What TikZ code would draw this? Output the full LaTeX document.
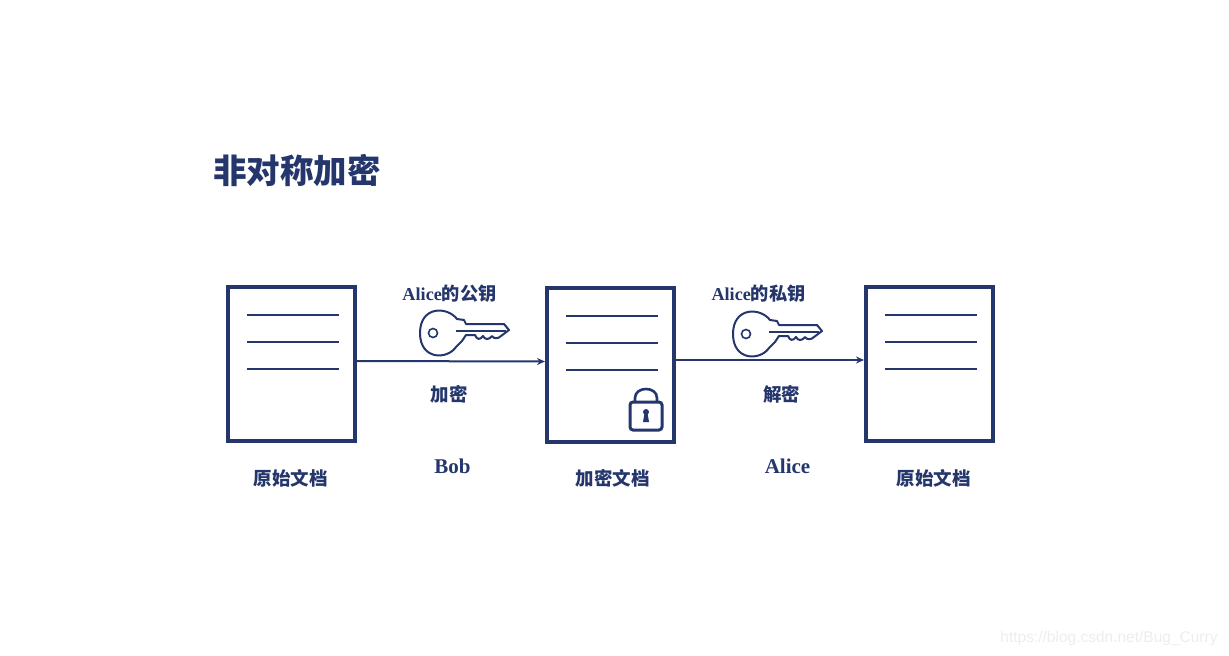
\documentclass[tikz,border=0pt]{standalone}
\usepackage{fontspec}
\setmainfont{Liberation Serif}
\setsansfont{Liberation Sans}
\newfontfamily\cjk{Noto Sans CJK SC}
\usetikzlibrary{arrows.meta}
\definecolor{navy}{HTML}{24366C}
\tikzset{
  keyicon/.pic={
    \draw[navy, line width=2pt, line join=round, fill=white]
      (18,-14) .. controls (8,-27) and (-19,-27) .. (-19,0)
      .. controls (-19,27) and (8,27) .. (17,14)
      -- (23,8) -- (27,2) -- (36,2) .. controls (38,7) and (41,7) .. (44,3)
      .. controls (46,7) and (50,7) .. (53,3) .. controls (55,6) and (59,6) .. (62,3)
      -- (70,-3) -- (65,-9) -- (27,-9) -- (25,-13) -- cycle;
    \draw[navy, line width=1.8pt] (17,-2) -- (67,-2);
    \draw[navy, line width=1.6pt] (-6,0) circle (4.5);
  },
  lockicon/.pic={
    \draw[navy, line width=2.6pt] (-11,0) -- (-11,-4) .. controls (-11,-16) and (11,-16) .. (11,-4) -- (11,0);
    \draw[navy, line width=3pt, rounded corners=3pt] (-16,0) rectangle (16,28);
    \fill[navy] (0,10) circle (3);
    \fill[navy] (-1.5,11) -- (1.5,11) -- (3,20) -- (-3,20) -- cycle;
  }
}
\begin{document}
\begin{tikzpicture}[x=1pt, y=-1pt]
  % styles
  \tikzstyle{docbox}=[draw=navy, line width=4pt, minimum width=127pt, minimum height=154pt, inner sep=0pt]
  \tikzstyle{docrule}=[navy, line width=2pt]
  \tikzstyle{flow}=[navy, line width=2pt, -{Stealth[length=8pt, width=7pt]}]
  \tikzstyle{caption}=[navy, inner sep=0pt, font=\cjk\bfseries\fontsize{18.5}{20}\selectfont]
  \tikzstyle{keylabel}=[navy, inner sep=0pt, font=\bfseries\fontsize{18.2}{20}\selectfont]
  \tikzstyle{person}=[navy, inner sep=0pt, font=\bfseries\fontsize{21}{23}\selectfont]

  \useasboundingbox (0,0) rectangle (1229,656);

  % title
  \node[navy, inner sep=0pt, font=\cjk\bfseries\fontsize{33.5}{36}\selectfont] (title) at (297,170) {非对称加密};

  % documents
  \node[docbox] (source) at (291.5,364) {};
  \node[docbox] (cipher) at (610.5,364.5) {};
  \node[docbox] (plain) at (929.5,364) {};
  \foreach \doc in {source,cipher,plain}
    \foreach \dy in {49,22,-5}
      \draw[docrule] ([xshift=-44.5pt, yshift=\dy pt]\doc.center) -- ([xshift=47.5pt, yshift=\dy pt]\doc.center);

  % captions
  \node[caption] (sourcename) at (290.5,478) {原始文档};
  \node[caption] (ciphername) at (612.5,478) {加密文档};
  \node[caption] (plainname) at (933.5,478) {原始文档};

  % arrows
  \draw[flow] ([yshift=3pt]source.east) -- ([yshift=3pt]cipher.west);
  \draw[flow] ([yshift=4.5pt]cipher.east) -- ([yshift=4pt]plain.west);

  % keys
  \pic at (439,333) {keyicon};
  \pic at (752,334) {keyicon};
  \node[keylabel] (pubkey) at (449.5,294) {Alice{\cjk 的公钥}};
  \node[keylabel] (privkey) at (758.5,294) {Alice{\cjk 的私钥}};
  \node[caption] (encrypt) at (449,394) {加密};
  \node[caption] (decrypt) at (781.5,394) {解密};

  % people
  \node[person] (bob) at (452.5,466) {Bob};
  \node[person] (alice) at (787.5,466) {Alice};

  % lock
  \pic at (646,402) {lockicon};

  % watermark
  \node[gray!14, inner sep=0pt, font=\sffamily\fontsize{15.5}{17}\selectfont] (mark) at (1109,638) {https://blog.csdn.net/Bug\_Curry};
\end{tikzpicture}
\end{document}
